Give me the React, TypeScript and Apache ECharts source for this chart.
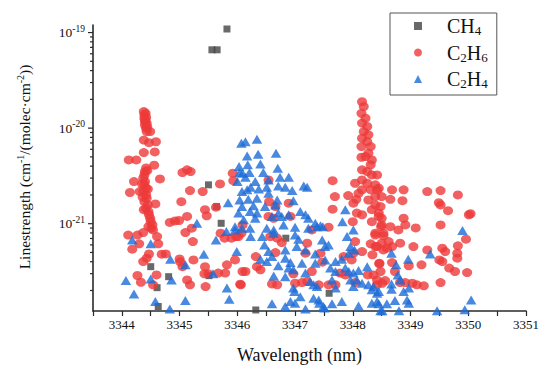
import { useEffect, useRef } from 'react';
import * as echarts from 'echarts';

const FONT = "'Liberation Serif', 'Times New Roman', serif";

const X_MIN = 3343.5;
const X_MAX = 3351;
const Y_MIN = 1.22e-22;
const Y_MAX = 1.2e-19;

const yMajorTicks = [1e-21, 1e-20, 1e-19];
const yMinorTicks = [
  2e-22, 3e-22, 4e-22, 5e-22, 6e-22, 7e-22, 8e-22, 9e-22,
  2e-21, 3e-21, 4e-21, 5e-21, 6e-21, 7e-21, 8e-21, 9e-21,
  2e-20, 3e-20, 4e-20, 5e-20, 6e-20, 7e-20, 8e-20, 9e-20,
];

const seriesNames = ['CH4', 'C2H6', 'C2H4'];

const ch4: [number, number][] = [
  [3344.50, 3.55e-22], [3344.81, 2.79e-22], [3344.61, 2.14e-22], [3344.63, 1.36e-22],
  [3345.50, 2.55e-21], [3345.64, 1.51e-21], [3345.72, 1.01e-21], [3345.51, 2.86e-22],
  [3345.56, 6.6e-20], [3345.65, 6.6e-20], [3345.82, 1.09e-19],
  [3346.84, 7.05e-22], [3347.59, 1.87e-22], [3346.32, 1.25e-22],
];

const c2h6: [number, number][] = [
  [3344.38, 1.49e-20], [3344.39, 1.37e-20], [3344.39, 1.27e-20], [3344.40, 1.17e-20], [3344.40, 1.08e-20],
  [3344.42, 9.98e-21], [3344.43, 9.2e-21], [3344.49, 9.2e-21], [3344.41, 1.43e-20], [3344.42, 1.3e-20],
  [3344.41, 1.2e-20], [3344.43, 1.12e-20], [3344.44, 1.03e-20],
  [3344.38, 7.5e-21], [3344.47, 7.05e-21], [3344.59, 7.2e-21], [3344.38, 5.55e-21], [3344.57, 5.64e-21],
  [3344.12, 4.65e-21], [3344.25, 4.65e-21], [3344.56, 4.1e-21],
  [3344.42, 3.83e-21], [3344.40, 3.51e-21], [3344.39, 3.24e-21], [3344.37, 2.99e-21], [3344.40, 2.76e-21],
  [3344.39, 2.55e-21], [3344.42, 2.35e-21], [3344.37, 2.17e-21], [3344.42, 2.0e-21], [3344.43, 1.85e-21],
  [3344.39, 1.70e-21], [3344.45, 1.57e-21], [3344.42, 1.45e-21], [3344.46, 1.34e-21], [3344.47, 1.24e-21],
  [3344.49, 1.14e-21], [3344.50, 1.05e-21], [3344.53, 9.7e-22], [3344.51, 8.97e-22], [3344.46, 9.3e-22],
  [3344.54, 8.6e-22], [3344.44, 3.6e-21], [3344.35, 2.6e-21], [3344.45, 2.3e-21], [3344.36, 1.9e-21],
  [3344.21, 2.76e-21], [3344.14, 2.12e-21], [3344.31, 2.17e-21], [3344.66, 2.94e-21], [3344.58, 1.61e-21],
  [3344.38, 1.40e-21],
  [3344.11, 7.6e-22], [3344.27, 7.6e-22], [3344.37, 8.07e-22], [3344.61, 7.33e-22], [3344.30, 6.15e-22],
  [3344.63, 6.15e-22], [3344.18, 5.41e-22], [3344.47, 4.83e-22], [3344.43, 4.36e-22], [3344.37, 4.01e-22],
  [3344.69, 4.8e-22], [3344.76, 4.83e-22], [3344.27, 2.87e-22], [3344.33, 2.44e-22], [3344.60, 2.91e-22],
  [3344.54, 2.29e-22],
  [3344.83, 1.03e-21], [3344.92, 1.07e-21], [3344.99, 1.08e-21], [3345.13, 1.19e-21], [3345.10, 8.07e-22],
  [3345.21, 8.97e-22], [3345.23, 6.5e-22], [3345.05, 3.43e-21], [3345.13, 3.66e-21], [3345.19, 3.51e-21],
  [3345.18, 2.22e-21], [3345.03, 1.70e-21], [3345.40, 2.17e-21], [3345.44, 1.40e-21], [3345.47, 1.21e-21],
  [3345.70, 2.61e-21], [3345.92, 3.38e-21], [3345.93, 2.82e-21], [3345.63, 1.49e-21], [3345.71, 7.95e-22],
  [3345.78, 7.05e-22], [3345.90, 7.05e-22], [3345.98, 7.33e-22], [3346.07, 7.95e-22],
  [3345.00, 4.28e-22], [3345.05, 3.55e-22], [3345.01, 3.99e-22], [3345.24, 4.18e-22], [3345.44, 3.55e-22],
  [3345.43, 2.99e-22], [3345.50, 2.99e-22], [3345.67, 3.04e-22], [3345.79, 3.04e-22], [3345.82, 3.71e-22],
  [3345.96, 4.18e-22], [3346.09, 3.16e-22], [3346.06, 2.29e-22], [3345.13, 2.58e-22], [3345.18, 2.29e-22],
  [3345.45, 2.2e-22],
  [3348.16, 1.89e-20], [3348.19, 1.68e-20], [3348.15, 1.43e-20], [3348.22, 1.27e-20], [3348.16, 1.13e-20],
  [3348.25, 1.04e-20], [3348.19, 9.2e-21], [3348.27, 8.5e-21], [3348.16, 7.84e-21], [3348.25, 7.22e-21],
  [3348.31, 6.41e-21], [3348.15, 6.41e-21], [3348.27, 5.46e-21], [3348.22, 5.04e-21], [3348.33, 4.65e-21],
  [3348.15, 4.96e-21], [3348.31, 4.13e-21], [3348.16, 3.66e-21], [3348.25, 3.51e-21], [3348.33, 3.24e-21],
  [3348.16, 2.87e-21], [3348.04, 2.65e-21], [3348.25, 2.65e-21], [3348.39, 2.55e-21], [3348.16, 2.26e-21],
  [3348.31, 2.26e-21], [3348.45, 2.35e-21], [3348.10, 2.08e-21], [3348.39, 1.92e-21], [3348.27, 1.77e-21],
  [3348.50, 1.92e-21], [3348.07, 1.29e-21], [3348.16, 1.24e-21], [3348.33, 1.40e-21], [3348.45, 1.29e-21],
  [3348.50, 1.14e-21], [3348.33, 1.05e-21], [3348.50, 9.7e-22], [3348.39, 7.95e-22], [3348.53, 7.95e-22],
  [3348.50, 6.25e-22], [3348.39, 5.76e-22], [3348.53, 5.32e-22],
  [3347.65, 2.82e-21], [3347.69, 1.92e-21], [3347.92, 1.97e-21], [3348.06, 1.80e-21], [3347.65, 1.42e-21],
  [3346.89, 1.64e-21], [3346.54, 2.87e-21], [3346.55, 1.70e-21], [3346.66, 1.51e-21], [3346.54, 1.19e-21],
  [3346.63, 1.14e-21], [3346.92, 1.19e-21], [3346.09, 9.7e-22], [3346.02, 7.33e-22], [3346.57, 7.33e-22],
  [3346.69, 7.05e-22], [3346.77, 6.34e-22], [3347.21, 6.25e-22], [3347.29, 8.6e-22], [3347.58, 9.2e-22],
  [3347.18, 4.91e-22], [3347.44, 4.91e-22], [3346.66, 4.98e-22], [3346.32, 4.53e-22], [3346.34, 3.55e-22],
  [3346.40, 3.29e-22], [3346.14, 3.16e-22], [3346.05, 2.33e-22], [3346.60, 2.34e-22], [3346.69, 2.29e-22],
  [3346.97, 2.99e-22], [3347.00, 2.38e-22], [3347.12, 2.42e-22], [3347.21, 2.48e-22], [3347.29, 3.16e-22],
  [3347.41, 2.29e-22], [3347.58, 2.29e-22], [3347.70, 2.29e-22], [3347.47, 3.96e-22], [3347.84, 4.53e-22],
  [3348.04, 6.5e-22], [3348.01, 4.91e-22], [3348.16, 5.11e-22], [3348.31, 6.15e-22], [3348.34, 4.72e-22],
  [3347.98, 4.18e-22], [3347.78, 3.04e-22], [3347.87, 2.91e-22], [3348.26, 2.91e-22], [3348.36, 2.91e-22],
  [3348.46, 3.86e-22], [3348.48, 3.16e-22], [3348.42, 2.29e-22], [3348.51, 2.38e-22], [3348.04, 2.42e-22],
  [3348.00, 1.05e-21], [3348.01, 1.64e-21],
  [3348.42, 3.24e-21], [3348.42, 2.26e-21], [3348.68, 2.26e-21], [3348.88, 2.26e-21], [3348.65, 1.80e-21],
  [3348.86, 1.74e-21], [3349.29, 2.17e-21], [3349.52, 2.22e-21], [3349.82, 2.0e-21], [3349.49, 1.66e-21],
  [3349.52, 1.57e-21], [3349.65, 1.37e-21], [3350.01, 1.24e-21], [3350.04, 1.27e-21], [3348.39, 1.57e-21],
  [3348.48, 1.51e-21], [3348.45, 1.19e-21], [3348.88, 1.14e-21], [3348.91, 9.7e-22], [3348.49, 9.3e-22],
  [3348.65, 9.3e-22], [3348.79, 8.6e-22], [3349.09, 9.04e-22], [3349.52, 9.7e-22], [3348.39, 7.6e-22],
  [3348.53, 7.5e-22], [3348.62, 6.5e-22], [3348.68, 5.76e-22], [3348.82, 6.25e-22], [3348.42, 5.76e-22],
  [3348.59, 5.55e-22], [3349.05, 5.76e-22], [3349.29, 5.32e-22], [3349.55, 5.55e-22], [3349.60, 5.11e-22],
  [3349.82, 5.86e-22], [3349.81, 4.91e-22], [3349.81, 4.36e-22], [3349.96, 6.88e-22], [3348.46, 3.8e-22],
  [3348.68, 3.92e-22], [3348.97, 3.62e-22], [3349.19, 3.71e-22], [3349.50, 4.18e-22], [3349.55, 4.01e-22],
  [3349.67, 3.43e-22], [3349.77, 3.16e-22], [3349.98, 3.08e-22], [3348.73, 3.16e-22], [3348.42, 2.58e-22],
  [3348.56, 2.54e-22], [3348.82, 2.42e-22], [3348.91, 2.42e-22], [3349.03, 2.38e-22], [3349.11, 2.29e-22],
  [3349.23, 2.24e-22], [3349.52, 2.42e-22],
];

const c2h4: [number, number][] = [
  [3344.18, 6.77e-22], [3344.50, 6.15e-22], [3344.07, 2.54e-22], [3344.21, 1.84e-22], [3344.50, 2.63e-22],
  [3344.58, 1.53e-22], [3344.83, 1.28e-22], [3344.86, 2.58e-22], [3344.84, 4.25e-22], [3345.10, 3.71e-22],
  [3345.10, 1.57e-22], [3345.30, 1.01e-21], [3345.42, 4.8e-22], [3345.58, 2.99e-22], [3345.63, 6.77e-22],
  [3345.81, 8.27e-22], [3345.82, 2.12e-22], [3345.86, 1.62e-22], [3345.84, 1.66e-21], [3345.99, 5.11e-22],
  [3346.03, 3.96e-21], [3346.04, 3.43e-21], [3346.00, 2.76e-21], [3346.04, 1.77e-21], [3346.07, 6.95e-21],
  [3345.96, 8.6e-22],
  [3346.14, 7.22e-21], [3346.34, 7.65e-21], [3346.67, 5.46e-21], [3346.17, 5.12e-21], [3346.36, 5.33e-21],
  [3346.18, 4.13e-21], [3346.40, 4.22e-21], [3346.09, 3.38e-21], [3346.21, 3.43e-21], [3346.45, 3.43e-21],
  [3346.70, 3.80e-21], [3346.14, 3.06e-21], [3346.31, 2.76e-21], [3346.54, 2.87e-21], [3346.74, 3.06e-21],
  [3346.89, 3.06e-21], [3346.23, 2.41e-21], [3346.37, 2.30e-21], [3346.51, 2.41e-21], [3346.71, 2.48e-21],
  [3346.83, 2.41e-21], [3347.15, 2.48e-21], [3347.21, 2.41e-21], [3346.08, 2.17e-21], [3346.17, 2.26e-21],
  [3346.54, 2.08e-21], [3346.95, 2.22e-21], [3346.19, 1.80e-21], [3346.34, 1.85e-21], [3346.69, 1.77e-21],
  [3346.97, 1.74e-21], [3346.08, 1.51e-21], [3346.28, 1.54e-21], [3346.48, 1.51e-21], [3346.66, 1.57e-21],
  [3346.02, 1.29e-21], [3346.22, 1.34e-21], [3346.34, 1.29e-21], [3346.71, 1.29e-21], [3346.89, 1.24e-21],
  [3347.09, 1.34e-21], [3347.18, 1.24e-21], [3347.23, 1.14e-21], [3347.35, 1.01e-21], [3347.44, 9.5e-22],
  [3346.11, 1.10e-21], [3346.31, 1.14e-21], [3346.60, 1.19e-21], [3346.77, 1.19e-21], [3347.87, 1.40e-21],
  [3347.82, 1.05e-21], [3348.01, 8.6e-22], [3345.96, 9.3e-22], [3346.08, 8.97e-22], [3346.22, 8.97e-22],
  [3346.51, 8.97e-22], [3346.63, 8.6e-22], [3346.80, 9.7e-22], [3347.00, 9.2e-22], [3346.23, 7.33e-22],
  [3346.43, 7.33e-22], [3346.63, 7.95e-22], [3347.00, 7.6e-22], [3347.06, 6.88e-22], [3347.23, 8.97e-22],
  [3347.38, 9.3e-22], [3347.48, 9.3e-22], [3347.47, 6.77e-22], [3347.52, 5.76e-22], [3347.58, 6.0e-22],
  [3347.90, 7.33e-22], [3347.96, 5.76e-22], [3348.03, 5.32e-22], [3346.47, 6.0e-22], [3346.54, 5.11e-22],
  [3346.83, 5.32e-22], [3347.03, 5.76e-22], [3347.18, 5.32e-22], [3347.35, 4.83e-22], [3346.40, 4.25e-22],
  [3346.51, 4.01e-22], [3346.60, 4.53e-22], [3346.83, 4.36e-22], [3346.92, 3.92e-22], [3347.12, 3.86e-22],
  [3347.35, 3.86e-22], [3347.52, 4.18e-22], [3347.70, 4.01e-22], [3347.81, 4.25e-22], [3347.93, 4.91e-22],
  [3346.71, 3.62e-22], [3346.89, 3.43e-22], [3346.97, 3.29e-22], [3347.18, 3.04e-22], [3347.61, 3.43e-22],
  [3347.70, 3.16e-22], [3347.87, 3.43e-22], [3347.93, 3.16e-22], [3348.01, 3.04e-22], [3348.10, 3.23e-22],
  [3348.25, 3.55e-22], [3346.63, 2.84e-22], [3346.83, 2.79e-22], [3347.26, 2.48e-22], [3347.32, 2.29e-22],
  [3347.64, 2.58e-22], [3347.96, 2.58e-22], [3348.07, 2.58e-22], [3348.16, 2.38e-22], [3348.27, 2.29e-22],
  [3348.36, 2.2e-22], [3348.45, 1.95e-22], [3346.97, 2.12e-22], [3346.99, 1.95e-22], [3347.38, 2.2e-22],
  [3347.70, 2.12e-22], [3348.01, 2.2e-22], [3348.33, 2.03e-22], [3348.42, 1.87e-22], [3346.92, 1.53e-22],
  [3347.00, 1.47e-22], [3347.09, 1.72e-22], [3347.32, 1.66e-22], [3347.41, 1.59e-22], [3347.49, 1.36e-22],
  [3347.64, 1.45e-22], [3347.81, 1.53e-22], [3348.10, 1.38e-22], [3348.33, 1.47e-22], [3348.45, 1.45e-22],
  [3348.51, 1.23e-22], [3346.60, 1.45e-22], [3346.83, 1.36e-22], [3347.18, 1.28e-22], [3347.51, 1.31e-22],
  [3347.42, 1.47e-22], [3348.59, 1.45e-22], [3348.73, 1.57e-22], [3348.94, 1.59e-22], [3348.97, 1.47e-22],
  [3348.80, 1.23e-22], [3349.94, 1.26e-22], [3350.05, 1.59e-22], [3348.48, 1.23e-22], [3349.46, 1.23e-22],
  [3349.90, 8.47e-22], [3348.67, 4.91e-22], [3349.34, 4.83e-22], [3348.96, 4.25e-22], [3348.75, 3.71e-22],
  [3348.78, 2.91e-22], [3348.82, 2.58e-22], [3348.67, 2.34e-22], [3348.67, 2.06e-22], [3348.88, 1.95e-22],
  [3348.97, 2.12e-22], [3348.42, 1.53e-22],
];

const legendRich: Record<string, string> = {
  CH4: '{f|CH}{sub|4}',
  C2H6: '{f|C}{sub|2}{n|H}{sub|6}',
  C2H4: '{f|C}{sub|2}{n|H}{sub|4}',
};

const TEXT = '#111';

export default function App() {
  const ref = useRef<HTMLDivElement>(null);

  useEffect(() => {
    if (!ref.current) return;
    const chart = echarts.init(ref.current, undefined, { renderer: 'svg' });
    const axisColor = '#2a2a2a';
    const option: any = {
      animation: false,
      backgroundColor: '#ffffff',
      grid: {
        left: 93, right: 24, top: 25, bottom: 63,
        containLabel: false,
        outerBoundsMode: 'none',
      },
      graphic: [
        {
          type: 'text',
          x: 24,
          y: 167,
          rotation: Math.PI / 2,
          silent: true,
          style: {
            text: '{n|Linestrength (cm}{s|-1}{n|/(molec·cm}{s|-2}{n|))}',
            align: 'center',
            verticalAlign: 'middle',
            fill: TEXT,
            fontFamily: FONT,
            fontSize: 15.5,
            rich: {
              n: { fontFamily: FONT, fontSize: 15.5, lineHeight: 18, fill: TEXT },
              s: { fontFamily: FONT, fontSize: 10, lineHeight: 10, verticalAlign: 'top', fill: TEXT },
            },
          },
        },
      ],
      legend: {
        data: seriesNames,
        orient: 'vertical',
        left: 390,
        top: 13,
        padding: [3, 9, 5, 24],
        itemWidth: 8,
        itemHeight: 8,
        itemGap: 5.5,
        borderColor: '#555',
        borderWidth: 1,
        backgroundColor: '#fff',
        selectedMode: false,
        formatter: (name: string) => legendRich[name] ?? name,
        textStyle: {
          fontFamily: FONT,
          color: TEXT,
          rich: {
            f: { fontFamily: FONT, fontSize: 20, lineHeight: 22, color: TEXT, padding: [0, 0, 0, 20] },
            n: { fontFamily: FONT, fontSize: 20, lineHeight: 22, color: TEXT },
            sub: { fontFamily: FONT, fontSize: 13, lineHeight: 12, verticalAlign: 'bottom', color: TEXT },
          },
        },
      },
      xAxis: {
        type: 'value',
        min: X_MIN,
        max: X_MAX,
        interval: 0.5,
        name: 'Wavelength (nm)',
        nameLocation: 'middle',
        nameGap: 35,
        nameTextStyle: { fontFamily: FONT, fontSize: 18, color: TEXT, padding: [0, 20, 0, 0] },
        axisLine: { show: true, onZero: false, lineStyle: { color: axisColor, width: 1.6 } },
        axisTick: { show: true, inside: false, length: 5, lineStyle: { color: axisColor, width: 1.2 } },
        axisLabel: {
          interval: 0,
          margin: 7,
          fontFamily: FONT,
          fontSize: 13,
          color: TEXT,
          formatter: (v: number) => (Math.abs(v - Math.round(v)) < 1e-6 ? String(Math.round(v)) : ''),
        },
        splitLine: { show: false },
      },
      yAxis: {
        type: 'log',
        logBase: 10,
        min: Y_MIN,
        max: Y_MAX,
        axisLine: { show: true, onZero: false, lineStyle: { color: axisColor, width: 1.6 } },
        axisTick: { show: false },
        axisLabel: {
          margin: 8,
          fontFamily: FONT,
          color: TEXT,
          formatter: (v: number) => {
            const lg = Math.log10(v);
            const e = Math.round(lg);
            if (Math.abs(lg - e) > 1e-6) return '';
            return `{b|10}{s|${e}}`;
          },
          rich: {
            b: { fontFamily: FONT, fontSize: 13.5, lineHeight: 18, color: TEXT },
            s: { fontFamily: FONT, fontSize: 9.5, lineHeight: 10, verticalAlign: 'top', color: TEXT },
          },
        },
        splitLine: { show: false },
      },
      series: [
        {
          name: 'CH4',
          type: 'scatter',
          symbol: 'rect',
          symbolSize: 7,
          itemStyle: { color: '#444444' },
          data: ch4,
          z: 2,
        },
        {
          name: 'C2H6',
          type: 'scatter',
          symbol: 'circle',
          symbolSize: [10, 9],
          itemStyle: { color: '#EE3A3A' },
          data: c2h6,
          z: 3,
        },
        {
          name: 'C2H4',
          type: 'scatter',
          symbol: 'triangle',
          symbolSize: [10.5, 9],
          itemStyle: { color: '#1C6CD8' },
          data: c2h4,
          z: 4,
        },
        {
          name: 'yTicks',
          type: 'custom',
          silent: true,
          clip: false,
          z: 6,
          encode: { x: 0, y: 1 },
          data: [
            ...yMajorTicks.map((v) => [X_MIN, v, 5]),
            ...yMinorTicks.map((v) => [X_MIN, v, 3]),
          ],
          renderItem: (_params: any, api: any) => {
            const p = api.coord([api.value(0), api.value(1)]);
            const len = api.value(2);
            return {
              type: 'line',
              shape: { x1: p[0] - len, y1: p[1], x2: p[0], y2: p[1] },
              style: { stroke: axisColor, lineWidth: 1.2 },
            };
          },
        },
      ],
    };
    chart.setOption(option);
    return () => chart.dispose();
  }, []);

  return (
    <div
      ref={ref}
      style={{ position: 'fixed', left: 0, top: 0, width: 550, height: 374, background: '#fff' }}
    />
  );
}
